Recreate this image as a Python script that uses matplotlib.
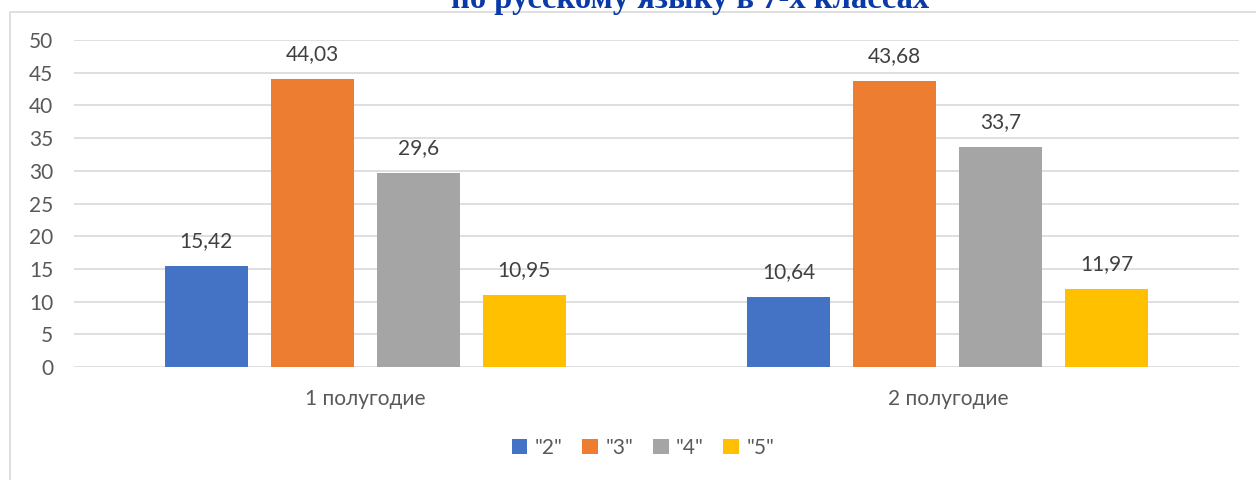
import matplotlib
matplotlib.use("Agg")
import matplotlib.pyplot as plt
import numpy as np
from matplotlib.patches import Rectangle

plt.rcParams['font.family'] = ['Lato', 'Noto Sans', 'DejaVu Sans']

# data
periods = ["1 полугодие", "2 полугодие"]
grades = ['"2"', '"3"', '"4"', '"5"']
values = {
    '"2"': [15.42, 10.64],
    '"3"': [44.03, 43.68],
    '"4"': [29.6, 33.7],
    '"5"': [10.95, 11.97],
}
colors = ["#4472c4", "#ed7d31", "#a5a5a5", "#ffc000"]
title = "по русскому языку в 7-х классах"

W, H = 1256, 480
fig = plt.figure(figsize=(W / 100, H / 100), dpi=100)

# chart frame (cut off at top/right/bottom in the original)
fig.patches.append(Rectangle((10 / W, -0.1), 1.2, 1 - 11.5 / H + 0.1,
                             transform=fig.transFigure, fill=False,
                             edgecolor="#d9d9d9", linewidth=1.2))

ax = fig.add_axes([74 / W, 1 - 367 / H, (1239 - 74) / W, (367 - 40) / H])

x = np.arange(len(periods))
width = 0.1425
step = 0.182
txt = "#404040"
fs = 15
for i, g in enumerate(grades):
    pos = x + (i - 1.5) * step
    bars = ax.bar(pos, values[g], width, color=colors[i], label=g, zorder=3)
    for b, v in zip(bars, values[g]):
        lab = ("%g" % v).replace(".", ",")
        ax.annotate(lab, (b.get_x() + b.get_width() / 2, v), xytext=(0, 18),
                    textcoords="offset points", ha="center", va="center",
                    fontsize=fs, color=txt)

ax.set_xlim(-0.5, 1.5)
ax.set_ylim(0, 50)
ax.set_yticks(range(0, 51, 5))
ax.yaxis.grid(True, color="#d9d9d9", linewidth=1.2, zorder=0)
ax.set_axisbelow(True)
for s in ax.spines.values():
    s.set_visible(False)
ax.tick_params(axis="y", length=0, pad=15, labelsize=fs, labelcolor="#595959")
ax.tick_params(axis="x", length=0, pad=16, labelsize=fs, labelcolor="#595959")
ax.set_xticks(x)
ax.set_xticklabels(periods)

fig.legend(loc="center", bbox_to_anchor=(643 / W, 1 - 448 / H), ncol=4,
           frameon=False, fontsize=fs, labelcolor="#595959",
           handlelength=0.75, handleheight=0.75, handletextpad=0.35,
           columnspacing=0.95)

fig.text(690 / W, 1 - 8 / H, title, ha="center", va="baseline",
         fontsize=23.5, fontweight="bold", color="#0a3aa8",
         family="Liberation Serif")

fig.savefig("out.png", dpi=100, facecolor="white")
